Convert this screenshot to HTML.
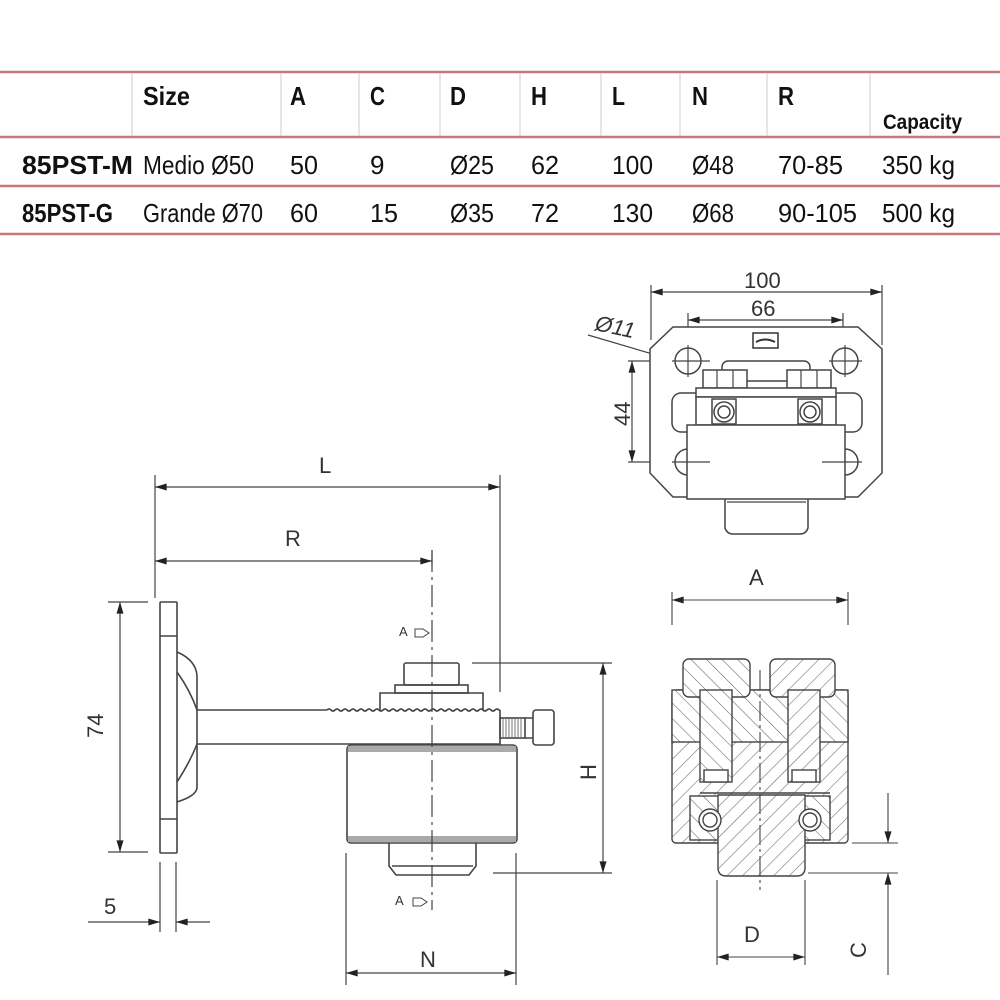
<!DOCTYPE html>
<html><head><meta charset="utf-8"><style>
html,body{margin:0;padding:0;background:#fff}
svg{display:block}
.t{font-family:"Liberation Sans Narrow","Liberation Sans",sans-serif;fill:#111}
.d{font-family:"Liberation Sans",sans-serif;fill:#333;font-size:22px}
</style></head><body>
<svg width="1000" height="1000" viewBox="0 0 1000 1000" xmlns="http://www.w3.org/2000/svg">
<defs>
<marker id="ar" viewBox="0 0 10 6" refX="10" refY="3" markerWidth="12" markerHeight="7" markerUnits="userSpaceOnUse" orient="auto-start-reverse"><path d="M0,0 L10,3 L0,6 z" fill="#222"/></marker>
<pattern id="h1" width="11" height="11" patternUnits="userSpaceOnUse" patternTransform="rotate(45)"><rect width="11" height="11" fill="#fff"/><line x1="0" y1="0" x2="0" y2="11" stroke="#666" stroke-width="1.1"/></pattern>
<pattern id="h2" width="11" height="11" patternUnits="userSpaceOnUse" patternTransform="rotate(-45)"><rect width="11" height="11" fill="#fff"/><line x1="0" y1="0" x2="0" y2="11" stroke="#666" stroke-width="1.1"/></pattern>
</defs>

<!-- TABLE -->
<g stroke="#c47a7a" stroke-width="2.5">
<line x1="0" y1="72" x2="1000" y2="72"/><line x1="0" y1="137" x2="1000" y2="137"/>
<line x1="0" y1="186" x2="1000" y2="186"/><line x1="0" y1="234" x2="1000" y2="234"/>
</g>
<g stroke="#ccc" stroke-width="1">
<line x1="132" y1="73" x2="132" y2="136"/><line x1="281" y1="73" x2="281" y2="136"/>
<line x1="359" y1="73" x2="359" y2="136"/><line x1="440" y1="73" x2="440" y2="136"/>
<line x1="520" y1="73" x2="520" y2="136"/><line x1="601" y1="73" x2="601" y2="136"/>
<line x1="680" y1="73" x2="680" y2="136"/><line x1="767" y1="73" x2="767" y2="136"/>
<line x1="870" y1="73" x2="870" y2="136"/>
</g>
<g class="t" font-size="26" font-weight="bold">
<text x="143" y="105" textLength="47" lengthAdjust="spacingAndGlyphs">Size</text>
<text x="290" y="105" textLength="16" lengthAdjust="spacingAndGlyphs">A</text>
<text x="370" y="105" textLength="15" lengthAdjust="spacingAndGlyphs">C</text>
<text x="450" y="105" textLength="16" lengthAdjust="spacingAndGlyphs">D</text>
<text x="531" y="105" textLength="16" lengthAdjust="spacingAndGlyphs">H</text>
<text x="612" y="105" textLength="13" lengthAdjust="spacingAndGlyphs">L</text>
<text x="692" y="105" textLength="16" lengthAdjust="spacingAndGlyphs">N</text>
<text x="778" y="105" textLength="16" lengthAdjust="spacingAndGlyphs">R</text>
<text x="883" y="129" font-size="21" textLength="79" lengthAdjust="spacingAndGlyphs">Capacity</text>
<text x="22" y="174" textLength="111" lengthAdjust="spacingAndGlyphs">85PST-M</text>
<text x="22" y="222" textLength="91" lengthAdjust="spacingAndGlyphs">85PST-G</text>
</g>
<g class="t" font-size="26" fill="#222">
<text x="143" y="174" textLength="111" lengthAdjust="spacingAndGlyphs">Medio Ø50</text>
<text x="290" y="174" textLength="28" lengthAdjust="spacingAndGlyphs">50</text>
<text x="370" y="174">9</text>
<text x="450" y="174" textLength="44" lengthAdjust="spacingAndGlyphs">Ø25</text>
<text x="531" y="174" textLength="28" lengthAdjust="spacingAndGlyphs">62</text>
<text x="612" y="174" textLength="41" lengthAdjust="spacingAndGlyphs">100</text>
<text x="692" y="174" textLength="42" lengthAdjust="spacingAndGlyphs">Ø48</text>
<text x="778" y="174" textLength="65" lengthAdjust="spacingAndGlyphs">70-85</text>
<text x="882" y="174" textLength="73" lengthAdjust="spacingAndGlyphs">350 kg</text>
<text x="143" y="222" textLength="120" lengthAdjust="spacingAndGlyphs">Grande Ø70</text>
<text x="290" y="222" textLength="28" lengthAdjust="spacingAndGlyphs">60</text>
<text x="370" y="222" textLength="28" lengthAdjust="spacingAndGlyphs">15</text>
<text x="450" y="222" textLength="44" lengthAdjust="spacingAndGlyphs">Ø35</text>
<text x="531" y="222" textLength="28" lengthAdjust="spacingAndGlyphs">72</text>
<text x="612" y="222" textLength="41" lengthAdjust="spacingAndGlyphs">130</text>
<text x="692" y="222" textLength="42" lengthAdjust="spacingAndGlyphs">Ø68</text>
<text x="778" y="222" textLength="79" lengthAdjust="spacingAndGlyphs">90-105</text>
<text x="882" y="222" textLength="73" lengthAdjust="spacingAndGlyphs">500 kg</text>
</g>

<!-- SIDE VIEW -->
<g fill="none" stroke="#444" stroke-width="1.6">
<rect x="160" y="602" width="17" height="251" rx="1"/>
<line x1="160" y1="636" x2="177" y2="636"/><line x1="160" y1="819" x2="177" y2="819"/>
<path d="M177,652 Q196,660 197,676 L197,788 Q196,796 177,802"/>
<path d="M177,672 Q190,690 197,710 M177,782 Q190,762 197,744"/>
<path d="M197,710 L327,710 M197,744 L500,744 L500,710"/>
<path d="M327,710 q2,-2 4,0 q2,2 4,0 q2,-2 4,0 q2,2 4,0 q2,-2 4,0 q2,2 4,0 q2,-2 4,0 q2,2 4,0 q2,-2 4,0 q2,2 4,0 q2,-2 4,0 q2,2 4,0 q2,-2 4,0 q2,2 4,0 q2,-2 4,0 q2,2 4,0 q2,-2 4,0 q2,2 4,0 q2,-2 4,0 q2,2 4,0 q2,-2 4,0 q2,2 4,0 q2,-2 4,0 q2,2 4,0 q2,-2 4,0 q2,2 4,0 q2,-2 4,0 q2,2 4,0 q2,-2 4,0 q2,2 4,0 q2,-2 4,0 q2,2 4,0 q2,-2 4,0 q2,2 4,0 q2,-2 4,0 q2,2 4,0 q2,-2 4,0 q2,2 4,0 q2,-2 4,0 q2,2 4,0 q2,-2 4,0 q2,2 4,0 q2,-2 4,0 L500,710"/>
<path d="M380,710 L380,693 L483,693 L483,710"/>
<rect x="395" y="685" width="73" height="8"/>
<rect x="404" y="663" width="55" height="22" rx="2"/>
<rect x="500" y="718" width="25" height="20"/>
<rect x="533" y="710" width="21" height="35" rx="3"/>
<path d="M525,718 L533,718 M525,738 L533,738"/>
<rect x="347" y="745" width="170" height="98" rx="4"/>
<path d="M389,843 L389,866 L396,875 L469,875 L476,866 L476,843 M392,866 L473,866"/>
</g>
<g stroke="#555" stroke-width="0.8">
<path d="M503,719 v18 M506,719 v18 M509,719 v18 M512,719 v18 M515,719 v18 M518,719 v18 M521,719 v18"/>
</g>
<rect x="348" y="746" width="168" height="6" fill="#aaa"/>
<rect x="348" y="836" width="168" height="6" fill="#aaa"/>
<line x1="432" y1="550" x2="432" y2="910" stroke="#444" stroke-width="1.2" stroke-dasharray="22,5,3,5"/>
<text x="399" y="636" font-family="Liberation Sans" font-size="13" fill="#333">A</text>
<path d="M415,629 h8 l6,4 l-6,4 h-8 z" fill="none" stroke="#444" stroke-width="1"/>
<text x="395" y="905" font-family="Liberation Sans" font-size="13" fill="#333">A</text>
<path d="M413,898 h8 l6,4 l-6,4 h-8 z" fill="none" stroke="#444" stroke-width="1"/>

<!-- side dims -->
<g stroke="#444" stroke-width="1.2" fill="none">
<line x1="155" y1="475" x2="155" y2="598"/><line x1="500" y1="475" x2="500" y2="692"/>
<line x1="155" y1="487" x2="500" y2="487" marker-start="url(#ar)" marker-end="url(#ar)"/>
<line x1="432" y1="550" x2="432" y2="566"/>
<line x1="155" y1="561" x2="432" y2="561" marker-start="url(#ar)" marker-end="url(#ar)"/>
<line x1="108" y1="602" x2="148" y2="602"/><line x1="108" y1="852" x2="148" y2="852"/>
<line x1="120" y1="602" x2="120" y2="852" marker-start="url(#ar)" marker-end="url(#ar)"/>
<line x1="160" y1="862" x2="160" y2="932"/><line x1="176" y1="862" x2="176" y2="932"/>
<line x1="88" y1="922" x2="160" y2="922" marker-end="url(#ar)"/>
<line x1="210" y1="922" x2="176" y2="922" marker-end="url(#ar)"/>
<line x1="472" y1="663" x2="612" y2="663"/><line x1="493" y1="873" x2="612" y2="873"/>
<line x1="603" y1="663" x2="603" y2="873" marker-start="url(#ar)" marker-end="url(#ar)"/>
<line x1="346" y1="853" x2="346" y2="985"/><line x1="516" y1="853" x2="516" y2="985"/>
<line x1="346" y1="973" x2="516" y2="973" marker-start="url(#ar)" marker-end="url(#ar)"/>
</g>
<text class="d" x="319" y="473">L</text>
<text class="d" x="285" y="546">R</text>
<text class="d" x="0" y="0" transform="translate(103,738) rotate(-90)">74</text>
<text class="d" x="104" y="914">5</text>
<text class="d" x="0" y="0" transform="translate(596,780) rotate(-90)">H</text>
<text class="d" x="420" y="967">N</text>

<!-- TOP VIEW -->
<g stroke="#444" stroke-width="1.2" fill="none">
<line x1="651" y1="285" x2="651" y2="340"/><line x1="882" y1="285" x2="882" y2="345"/>
<line x1="651" y1="292" x2="882" y2="292" marker-start="url(#ar)" marker-end="url(#ar)"/>
<line x1="688" y1="313" x2="688" y2="380"/><line x1="843" y1="313" x2="843" y2="380"/>
<line x1="688" y1="320" x2="843" y2="320" marker-start="url(#ar)" marker-end="url(#ar)"/>
<line x1="588" y1="335" x2="700" y2="368"/>
<line x1="628" y1="361" x2="710" y2="361"/><line x1="628" y1="462" x2="710" y2="462"/>
<line x1="632" y1="361" x2="632" y2="462" marker-start="url(#ar)" marker-end="url(#ar)"/>
</g>
<text class="d" x="744" y="288">100</text>
<text class="d" x="751" y="316">66</text>
<text class="d" x="0" y="0" transform="translate(594,330) rotate(12)" font-style="italic">Ø11</text>
<text class="d" x="0" y="0" transform="translate(630,426) rotate(-90)">44</text>
<g fill="#fff" stroke="#444" stroke-width="1.5">
<path d="M673,327 L858,327 L882,349 L882,473 L858,497 L673,497 L650,473 L650,349 Z"/>
<circle cx="688" cy="361" r="13"/><circle cx="845" cy="361" r="13"/>
<circle cx="688" cy="462" r="13"/><circle cx="845" cy="462" r="13"/>
<rect x="672" y="393" width="190" height="39" rx="9"/>
<rect x="722" y="361" width="88" height="20" rx="6"/>
<rect x="703" y="370" width="44" height="18"/><rect x="787" y="370" width="44" height="18"/>
<rect x="696" y="388" width="140" height="9"/>
<rect x="696" y="397" width="140" height="28"/>
<rect x="712" y="399" width="24" height="25"/><rect x="798" y="399" width="24" height="25"/>
<circle cx="724" cy="412" r="10"/><circle cx="724" cy="412" r="6"/>
<circle cx="810" cy="412" r="10"/><circle cx="810" cy="412" r="6"/>
<path d="M725,499 L725,528 Q727,534 733,534 L800,534 Q806,534 808,528 L808,499"/>
<rect x="687" y="425" width="158" height="74"/>
</g>
<g stroke="#444" stroke-width="1.2"><line x1="717" y1="370" x2="717" y2="388"/><line x1="733" y1="370" x2="733" y2="388"/><line x1="801" y1="370" x2="801" y2="388"/><line x1="817" y1="370" x2="817" y2="388"/>
<line x1="727" y1="502" x2="806" y2="502"/>
<line x1="672" y1="361" x2="710" y2="361"/><line x1="829" y1="361" x2="862" y2="361"/>
<line x1="688" y1="345" x2="688" y2="377"/><line x1="845" y1="345" x2="845" y2="377"/>
<line x1="672" y1="462" x2="710" y2="462"/><line x1="822" y1="462" x2="862" y2="462"/></g>
<rect x="753" y="333" width="25" height="15" fill="#fff" stroke="#333" stroke-width="1.5"/>
<path d="M756,342 Q765,337 775,342" stroke="#333" stroke-width="2" fill="none"/>

<!-- SECTION VIEW -->
<g stroke="#444" stroke-width="1.4">
<rect x="672" y="690" width="176" height="153" rx="4" fill="url(#h1)"/>
<rect x="672" y="690" width="176" height="52" fill="url(#h2)"/>
<rect x="683" y="659" width="67" height="38" rx="6" fill="url(#h2)"/>
<rect x="770" y="659" width="65" height="38" rx="6" fill="url(#h1)"/>
<rect x="700" y="690" width="32" height="92" fill="url(#h2)"/>
<rect x="788" y="690" width="32" height="92" fill="url(#h1)"/>
<rect x="704" y="770" width="24" height="12" fill="#fff"/>
<rect x="792" y="770" width="24" height="12" fill="#fff"/>
<rect x="690" y="796" width="140" height="44" fill="url(#h2)"/>
<path d="M718,795 L718,869 Q719,876 726,876 L797,876 Q804,876 805,869 L805,795 Z" fill="url(#h1)"/>
<circle cx="710" cy="820" r="11" fill="#fff"/><circle cx="710" cy="820" r="7" fill="none"/>
<circle cx="810" cy="820" r="11" fill="#fff"/><circle cx="810" cy="820" r="7" fill="none"/>
<line x1="700" y1="793" x2="830" y2="793"/>
</g>
<g stroke="#444" stroke-width="1.1" fill="none">
<line x1="760" y1="670" x2="760" y2="890" stroke-dasharray="20,4,3,4"/>
<line x1="672" y1="592" x2="672" y2="625"/><line x1="848" y1="592" x2="848" y2="625"/>
<line x1="672" y1="600" x2="848" y2="600" marker-start="url(#ar)" marker-end="url(#ar)"/>
<line x1="717" y1="880" x2="717" y2="965"/><line x1="805" y1="880" x2="805" y2="965"/>
<line x1="717" y1="957" x2="805" y2="957" marker-start="url(#ar)" marker-end="url(#ar)"/>
<line x1="852" y1="843" x2="898" y2="843"/><line x1="808" y1="873" x2="898" y2="873"/>
<line x1="888" y1="793" x2="888" y2="843" marker-end="url(#ar)"/>
<line x1="888" y1="975" x2="888" y2="873" marker-end="url(#ar)"/>
</g>
<text class="d" x="749" y="585">A</text>
<text class="d" x="744" y="942">D</text>
<text class="d" x="0" y="0" transform="translate(866,958) rotate(-90)">C</text>
</svg>
</body></html>
